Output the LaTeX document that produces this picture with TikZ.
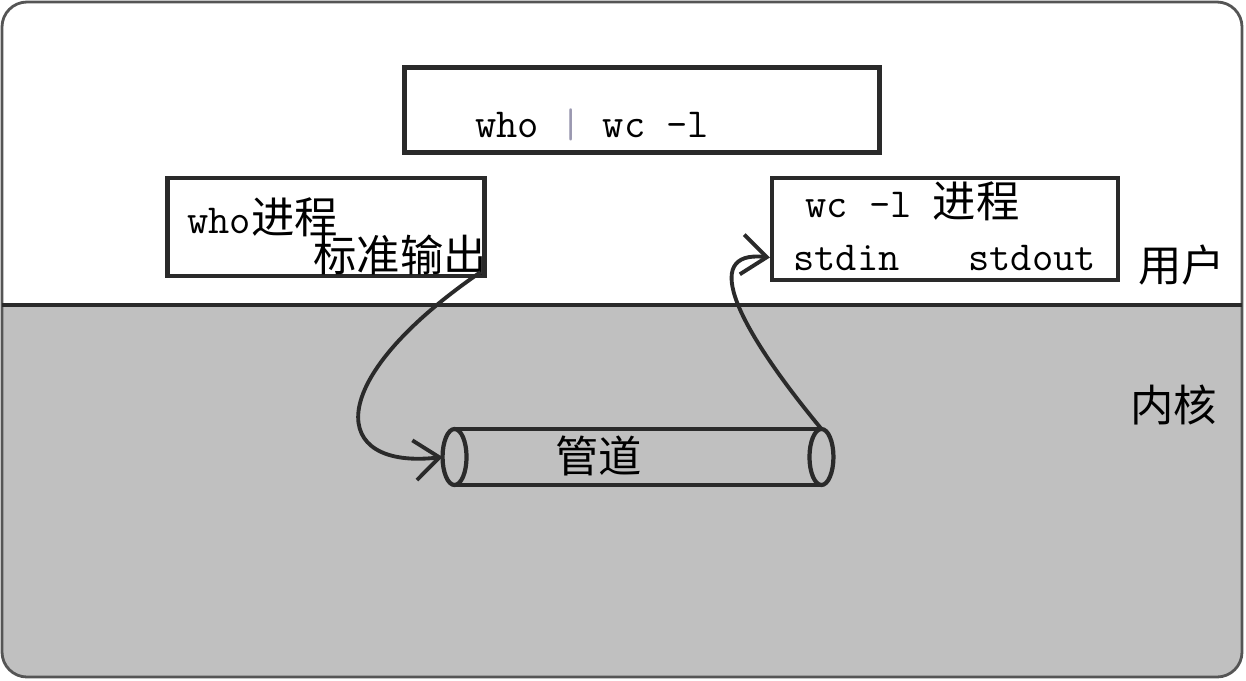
\documentclass[tikz,border=0pt]{standalone}
\usepackage{fontspec}
\newfontfamily\cjk[Scale=1.05]{Noto Sans CJK SC}
\usetikzlibrary{arrows.meta}
\definecolor{KernelGray}{HTML}{C0C0C0}
\definecolor{SketchLine}{HTML}{2A2A2A}
\definecolor{FrameLine}{HTML}{555555}
\definecolor{BarGray}{HTML}{9A98B0}
\tikzset{
    % Box styles
    procbox/.style={
        rectangle,
        draw=SketchLine,
        fill=white,
        line width=2.4pt
    },
    txt/.style={
        anchor=base west,
        inner sep=0pt
    },
    % Frame and pipe
    frame/.style={
        draw=FrameLine,
        line width=1.6pt,
        rounded corners=0.5cm
    },
    divider/.style={
        draw=SketchLine,
        line width=2pt
    },
    pipeline/.style={
        draw=SketchLine,
        line width=2.4pt
    },
    % Arrow style
    flowarrow/.style={
        -{Straight Barb[length=5mm,width=8mm]},
        line width=2.2pt,
        draw=SketchLine
    }
}
\begin{document}
\begin{tikzpicture}[x=0.02cm, y=-0.02cm, font=\ttfamily\fontsize{23.5}{28}\selectfont]
    \useasboundingbox (0,0) rectangle (1246,680);

    % User space and kernel space
    \begin{scope}
        \clip[rounded corners=0.5cm] (2,2) rectangle (1242,677);
        \fill[white] (2,2) rectangle (1242,305);
        \fill[KernelGray] (2,305) rectangle (1242,677);
    \end{scope}
    \draw[frame] (2,2) rectangle (1242,677);
    \draw[divider] (2,305) -- (1242,305);

    % Command line
    \node[procbox, minimum width=9.5cm, minimum height=1.7cm] (cmdbox) at (642,110) {};
    \node[txt] (cmd) at (475,137) {who {\color{BarGray}|} wc -l};

    % Processes
    \node[procbox, minimum width=6.34cm, minimum height=1.96cm] (whobox) at (326,227) {};
    \node[txt] (whoname) at (187,233) {who{\cjk 进程}};
    \node[txt] (whoout) at (313,271) {\cjk 标准输出};

    \node[procbox, minimum width=6.92cm, minimum height=2.04cm] (wcbox) at (945,229) {};
    \node[txt] (wcname) at (805,217) {wc -l {\cjk 进程}};
    \node[txt] (stdin) at (793,270) {stdin};
    \node[txt] (stdout) at (968,270) {stdout};

    \node[txt] (user) at (1138,281) {\cjk 用户};
    \node[txt] (kernel) at (1130,421) {\cjk 内核};

    % Pipe
    \node[minimum width=7.34cm, minimum height=1.12cm, inner sep=0pt, outer sep=0pt] (pipe) at (638,457) {};
    \draw[pipeline] (pipe.north west) -- (pipe.north east);
    \draw[pipeline] (pipe.south west) -- (pipe.south east);
    \draw[pipeline] (pipe.west) ellipse [x radius=0.24cm, y radius=0.56cm];
    \draw[pipeline] (pipe.east) ellipse [x radius=0.24cm, y radius=0.56cm];
    \node[txt] (pipename) at (555,472) {\cjk 管道};

    % Data flow
    \draw[flowarrow] ([shift={(-6,-6)}]whobox.south east) .. controls +(-160,110) and +(-113,13) .. ([xshift=-0.24cm]pipe.west);
    \draw[flowarrow] (pipe.north east) .. controls +(-82,-99) and +(-72,-8) .. (wcbox.west |- stdin);
\end{tikzpicture}
\end{document}
